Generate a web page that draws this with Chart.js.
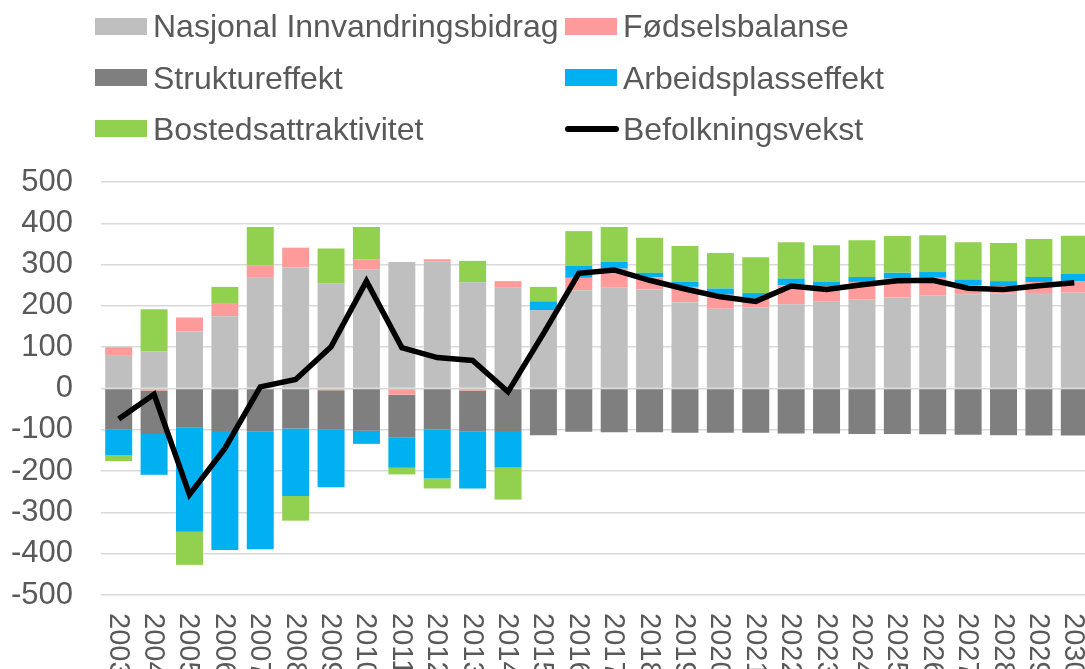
<!DOCTYPE html>
<html>
<head>
<meta charset="utf-8">
<script src="https://cdn.jsdelivr.net/npm/chart.js@4.4.1/dist/chart.umd.min.js"></script>
<style>
  html, body { margin: 0; padding: 0; background: #fff; width: 1085px; height: 669px; overflow: hidden; }
  #wrap { position: absolute; left: 0; top: 0; width: 1095px; height: 669px; }
  #legend { position: absolute; left: 0; top: 0; width: 1085px; height: 160px; z-index: 2;
            font-family: "Liberation Sans", Arial, sans-serif; font-size: 32px; color: #595959; }
  .lg-text { position: absolute; height: 36px; line-height: 36px; white-space: nowrap; }
  .lg-box { position: absolute; }
</style>
</head>
<body>
<div id="wrap"><canvas id="chart"></canvas></div>
<div id="legend"></div>
<script>
// Years on the category axis
const years = ['2003','2004','2005','2006','2007','2008','2009','2010','2011','2012','2013','2014','2015',
               '2016','2017','2018','2019','2020','2021','2022','2023','2024','2025','2026','2027','2028','2029','2030'];

// Components of population growth (persons)
const nasjonal = [79, 90, 138, 175, 268, 293, 254, 288, 306, 307, 257, 244, 190,
                  238, 244, 240, 209, 193, 196, 204, 210, 215, 220, 225, 228, 230, 231, 232];
const fodsel   = [21, -5, 34, 30, 30, 48, -4, 25, -15, 6, -5, 16, 0,
                  30, 46, 29, 37, 34, 22, 46, 38, 43, 46, 43, 22, 18, 27, 27];
const struktur = [-100, -105, -95, -103, -105, -97, -96, -102, -103, -99, -100, -103, -113,
                  -105, -106, -106, -107, -107, -107, -109, -109, -110, -110, -111, -112, -113, -114, -114];
const arbeid   = [-62, -99, -252, -288, -284, -163, -139, -32, -74, -119, -137, -88, 21,
                  29, 17, 11, 12, 15, 13, 16, 11, 12, 14, 14, 14, 12, 12, 19];
const bosted   = [-14, 102, -80, 41, 93, -60, 85, 78, -16, -24, 52, -78, 35,
                  84, 84, 85, 87, 86, 87, 88, 88, 89, 89, 89, 90, 92, 92, 92];
const vekst    = [-74, -14, -257, -145, 4, 22, 101, 260, 99, 75, 68, -8, 133,
                  279, 287, 262, 241, 222, 211, 248, 240, 251, 261, 262, 243, 240, 249, 256];

// Value axis ticks
const yTicks = [500, 400, 300, 200, 100, 0, -100, -200, -300, -400, -500];

const FONT = '"Liberation Sans", Arial, sans-serif';
const TEXT = '#595959';

const barSeries = [
  { label: 'Nasjonal Innvandringsbidrag', data: nasjonal, color: '#BFBFBF' },
  { label: 'Fødselsbalanse',              data: fodsel,   color: '#FF9B9B' },
  { label: 'Struktureffekt',              data: struktur, color: '#7F7F7F' },
  { label: 'Arbeidsplasseffekt',          data: arbeid,   color: '#00B0F0' },
  { label: 'Bostedsattraktivitet',        data: bosted,   color: '#92D050' }
];

const datasets = barSeries.map(s => ({
  type: 'bar',
  label: s.label,
  data: s.data,
  backgroundColor: s.color,
  borderWidth: 0,
  barPercentage: 0.762,
  categoryPercentage: 1.0,
  order: 1
}));
datasets.push({
  type: 'line',
  label: 'Befolkningsvekst',
  data: vekst,
  borderColor: '#000000',
  borderWidth: 5.5,
  borderJoinStyle: 'miter',
  pointRadius: 0,
  tension: 0,
  fill: false,
  order: 0
});

// Rotated year labels, read top to bottom
const yearLabels = {
  id: 'yearLabels',
  afterDraw(chart) {
    const xs = chart.scales.x;
    const ctx = chart.ctx;
    ctx.save();
    ctx.font = '29px ' + FONT;
    ctx.fillStyle = TEXT;
    ctx.textAlign = 'left';
    ctx.textBaseline = 'middle';
    years.forEach((yr, i) => {
      const x = xs.getPixelForValue(i);
      ctx.save();
      ctx.translate(x - 1, chart.chartArea.bottom + 18);
      ctx.rotate(Math.PI / 2);
      ctx.fillText(yr, 0, 0);
      ctx.restore();
    });
    ctx.restore();
  }
};

new Chart(document.getElementById('chart'), {
  type: 'bar',
  data: { labels: years, datasets },
  options: {
    responsive: true,
    maintainAspectRatio: false,
    animation: false,
    layout: { padding: { top: 182, right: 3, left: 0, bottom: 0 } },
    plugins: { legend: { display: false }, tooltip: { enabled: false } },
    scales: {
      x: {
        stacked: true,
        grid: { display: false },
        border: { display: false },
        ticks: { display: false },
        afterFit(scale) { scale.height = 74; }
      },
      y: {
        stacked: true,
        min: -500,
        max: 500,
        afterBuildTicks(scale) { scale.ticks = yTicks.map(v => ({ value: v })); },
        grid: { color: '#D9D9D9', lineWidth: 1.5, drawTicks: false },
        border: { display: false },
        ticks: { color: TEXT, font: { family: FONT, size: 31 }, padding: 28 },
        afterFit(scale) { scale.width = 101; }
      }
    }
  },
  plugins: [yearLabels]
});

// Legend in two columns, three rows
const legendItems = [
  { label: barSeries[0].label, color: barSeries[0].color, col: 0, row: 0 },
  { label: barSeries[1].label, color: barSeries[1].color, col: 1, row: 0 },
  { label: barSeries[2].label, color: barSeries[2].color, col: 0, row: 1 },
  { label: barSeries[3].label, color: barSeries[3].color, col: 1, row: 1 },
  { label: barSeries[4].label, color: barSeries[4].color, col: 0, row: 2 },
  { label: 'Befolkningsvekst', color: '#000000', col: 1, row: 2, line: true }
];
const colBox = [95, 564.5], colText = [153, 623], rowMid = [26, 77.5, 128.5];
const legend = document.getElementById('legend');
legendItems.forEach(it => {
  const box = document.createElement('div');
  box.className = 'lg-box';
  const mid = rowMid[it.row];
  if (it.line) {
    Object.assign(box.style, { left: colBox[it.col] + 'px', top: (mid - 3) + 'px', width: '54px',
      height: '6px', background: it.color, borderRadius: '3px' });
  } else {
    Object.assign(box.style, { left: colBox[it.col] + 'px', top: (mid - 8.5) + 'px', width: '52px',
      height: '17px', background: it.color });
  }
  legend.appendChild(box);
  const t = document.createElement('div');
  t.className = 'lg-text';
  t.textContent = it.label;
  Object.assign(t.style, { left: colText[it.col] + 'px', top: (mid - 17.7) + 'px' });
  legend.appendChild(t);
});
</script>
</body>
</html>
